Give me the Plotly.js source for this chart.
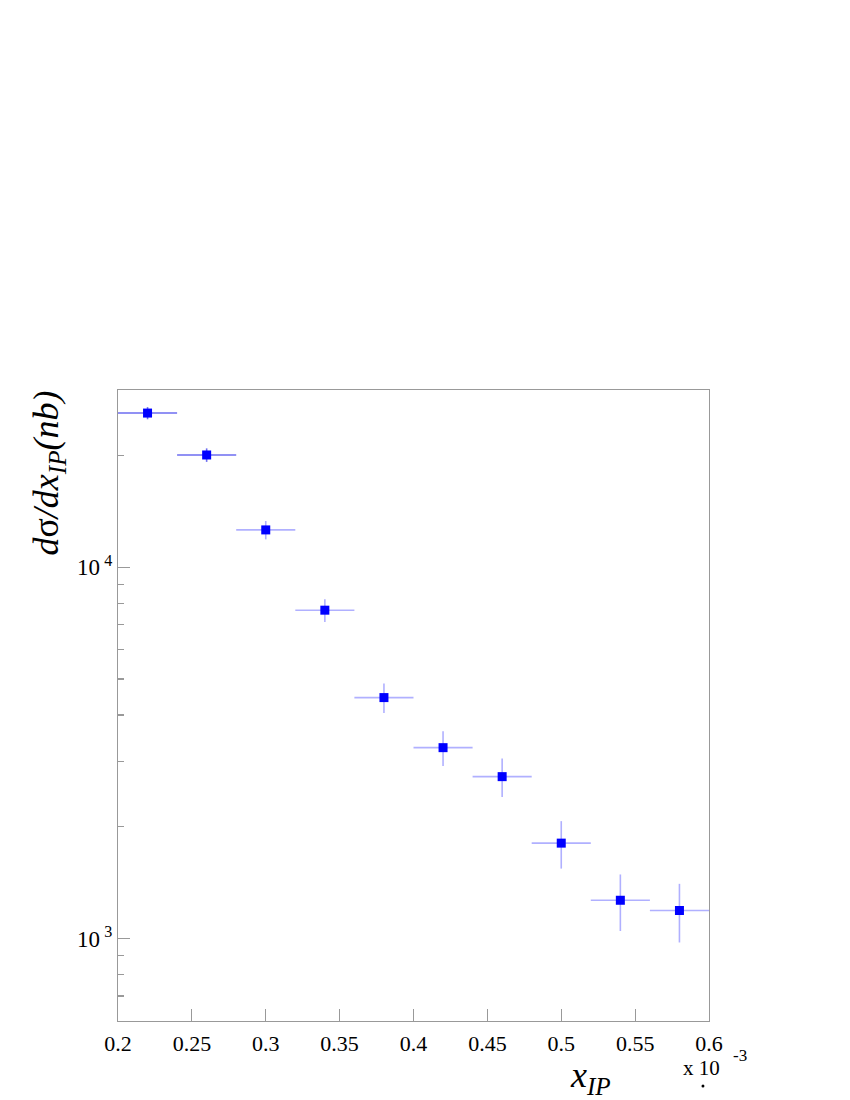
<!DOCTYPE html>
<html>
<head>
<meta charset="utf-8">
<script src="https://cdn.plot.ly/plotly-3.0.1.min.js"></script>
<style>html,body{margin:0;padding:0;background:#fff;}#chart{width:850px;height:1100px;}</style>
</head>
<body>
<div id="chart"></div>
<script>
// x_IP bin centres (units of 1e-3)
const xIP = [0.22, 0.26, 0.30, 0.34, 0.38, 0.42, 0.46, 0.50, 0.54, 0.58];
const xHalfWidth = [0.02, 0.02, 0.02, 0.02, 0.02, 0.02, 0.02, 0.02, 0.02, 0.02];
// dsigma/dx_IP (nb)
const dSigma = [26000, 20050, 12600, 7660, 4455, 3266, 2729, 1807, 1268, 1190];
const dSigmaErr = [980, 840, 715, 537, 405, 352, 325, 264, 220, 214];
const yMajorTicks = [1000, 10000];
const yMajorLabels = ["10<sup> 3</sup>", "10<sup> 4</sup>"];
const yMinorTicks = [700, 800, 900, 2000, 3000, 4000, 5000, 6000, 7000, 8000, 9000, 20000];
const xTicks = [0.2, 0.25, 0.3, 0.35, 0.4, 0.45, 0.5, 0.55, 0.6];
const xTickLabels = ["0.2", "0.25", "0.3", "0.35", "0.4", "0.45", "0.5", "0.55", "0.6"];

function mk(i0, i1, ecol) {
  return {
    type: 'scatter', mode: 'markers',
    x: xIP.slice(i0, i1), y: dSigma.slice(i0, i1),
    error_x: {type: 'data', array: xHalfWidth.slice(i0, i1), symmetric: true, width: 0, thickness: 1.6, color: ecol},
    error_y: {type: 'data', array: dSigmaErr.slice(i0, i1), symmetric: true, width: 0, thickness: 1.6, color: ecol},
    marker: {symbol: 'square', size: 9, color: '#0000ff'},
    showlegend: false, hoverinfo: 'x+y'
  };
}
const traces = [mk(0, 2, 'rgba(60,60,235,0.75)'), mk(2, 10, 'rgba(80,80,255,0.45)')];

const fontFam = 'Liberation Serif, Times New Roman, Times, serif';
const layout = {
  width: 850, height: 1100,
  margin: {l: 118, r: 141, t: 390, b: 79},
  paper_bgcolor: '#fff', plot_bgcolor: '#fff',
  font: {family: fontFam, color: '#000', size: 22},
  xaxis: {
    range: [0.2, 0.6], tickmode: 'array', tickvals: xTicks, ticktext: xTickLabels,
    ticks: 'inside', ticklen: 12, tickwidth: 1.2, tickcolor: '#999',
    showline: true, linecolor: '#999', linewidth: 1.2, mirror: true,
    showgrid: false, zeroline: false, tickfont: {family: fontFam, size: 22},
    ticklabelstandoff: 2
  },
  yaxis: {
    type: 'log', range: [2.778, 4.4771],
    tickmode: 'array', tickvals: yMajorTicks, ticktext: yMajorLabels,
    ticks: 'inside', ticklen: 12, tickwidth: 1.2, tickcolor: '#999',
    minor: {tickmode: 'array', tickvals: yMinorTicks, ticks: 'inside', ticklen: 6, tickwidth: 1.2, tickcolor: '#999', showgrid: false},
    showline: true, linecolor: '#999', linewidth: 1.2, mirror: true,
    showgrid: false, zeroline: false, tickfont: {family: fontFam, size: 23}
  },
  shapes: [
    {type: 'circle', xref: 'paper', yref: 'paper', x0: 0.9873, x1: 0.9923, y0: -0.1054, y1: -0.1006,
     fillcolor: '#000', line: {width: 0}}
  ],
  annotations: [
    {xref: 'paper', yref: 'paper', x: -0.118, y: 0.868, xanchor: 'center', yanchor: 'middle', textangle: -90,
     showarrow: false, font: {family: fontFam, size: 36, color: '#000'},
     text: '<i>d</i>σ<i>/dx</i><sub><i>IP</i></sub><i>(nb)</i>'},
    {xref: 'paper', yref: 'paper', x: 0.80, y: -0.089, xanchor: 'center', yanchor: 'middle',
     showarrow: false, font: {family: fontFam, size: 36, color: '#000'},
     text: '<i>x</i><sub><i>IP</i></sub>'},
    {xref: 'paper', yref: 'paper', x: 0.988, y: -0.074, xanchor: 'center', yanchor: 'middle',
     showarrow: false, font: {family: fontFam, size: 21, color: '#000'},
     text: 'x 10'},
    {xref: 'paper', yref: 'paper', x: 1.052, y: -0.054, xanchor: 'center', yanchor: 'middle',
     showarrow: false, font: {family: fontFam, size: 17, color: '#000'},
     text: '-3'}
  ]
};
Plotly.newPlot('chart', traces, layout, {staticPlot: true, displayModeBar: false});
</script>
</body>
</html>
